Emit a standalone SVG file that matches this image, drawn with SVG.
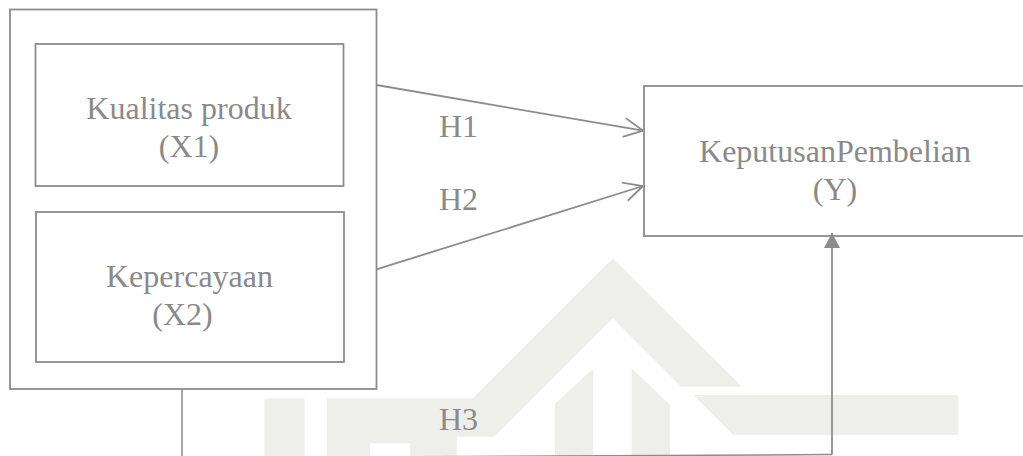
<svg xmlns="http://www.w3.org/2000/svg" width="1023" height="456" viewBox="0 0 1023 456">
<style>
.box{fill:none;stroke:#8c8c8c;stroke-width:1.8}
.lbl{font-family:"Liberation Serif","Times New Roman",serif;font-size:32px;fill:#8a8a8a}
.mid{text-anchor:middle}
.con{fill:none;stroke:#8c8c8c;stroke-width:1.8}
.wm{fill:#eeeeeb;stroke:none}
</style>
<defs>
<marker id="open" markerUnits="userSpaceOnUse" markerWidth="24" markerHeight="24" viewBox="-22 -12 24 24" refX="0" refY="0" orient="auto">
<path d="M-19,-9.5 L0,0 L-19,9.5" fill="none" stroke="#8c8c8c" stroke-width="1.8"/>
</marker>
<marker id="solid" markerUnits="userSpaceOnUse" markerWidth="20" markerHeight="20" viewBox="-17 -10 20 20" refX="0" refY="0" orient="auto">
<path d="M0,0 L-15,-8 L-15,8 Z" fill="#8c8c8c"/>
</marker>
</defs>
<rect width="1023" height="456" fill="#ffffff"/>
<g id="watermark">
<rect class="wm" x="264.5" y="398.5" width="40" height="58"/>
<polygon class="wm" points="326.7,398.3 472.7,398.3 612.7,258.3 742,386.7 681,386.7 612.7,318.3 494.3,436.7 456.7,436.7 456.7,456 410,456 410,443.3 370,443.3 370,456 326.7,456"/>
<polygon class="wm" points="555,456 555,404 593.3,368.3 593.3,456"/>
<polygon class="wm" points="631.7,456 631.7,368.3 670,405 670,456"/>
<polygon class="wm" points="693.3,395 958.3,395 958.3,435 733.3,435"/>
</g>
<g id="independent-group">
<rect class="box" x="10" y="9.5" width="366.5" height="379.5"/>
</g>
<g id="x1">
<rect class="box" x="35.5" y="44" width="308" height="142"/>
<text class="lbl mid" x="189" y="119">Kualitas produk</text>
<text class="lbl mid" x="189" y="157">(X1)</text>
</g>
<g id="x2">
<rect class="box" x="36" y="212" width="308" height="150"/>
<text class="lbl mid" x="189.5" y="287">Kepercayaan</text>
<text class="lbl mid" x="182.5" y="325">(X2)</text>
</g>
<g id="y">
<rect class="box" x="644" y="86" width="400" height="150"/>
<text class="lbl mid" x="835" y="161.5">KeputusanPembelian</text>
<text class="lbl mid" x="835" y="200">(Y)</text>
</g>
<g id="connectors">
<line class="con" x1="376.5" y1="85" x2="643" y2="130.7" marker-end="url(#open)"/>
<line class="con" x1="376.5" y1="269.3" x2="643" y2="186" marker-end="url(#open)"/>
<polyline class="con" points="182,389 182,460 410,456.8 832,454.6" style="stroke-width:1.5"/>
<line class="con" x1="832" y1="454.6" x2="832" y2="233" marker-end="url(#solid)" style="stroke-width:1.8"/>
<text class="lbl" x="439" y="136.7">H1</text>
<text class="lbl" x="439" y="210">H2</text>
<text class="lbl" x="439" y="430">H3</text>
</g>
</svg>
